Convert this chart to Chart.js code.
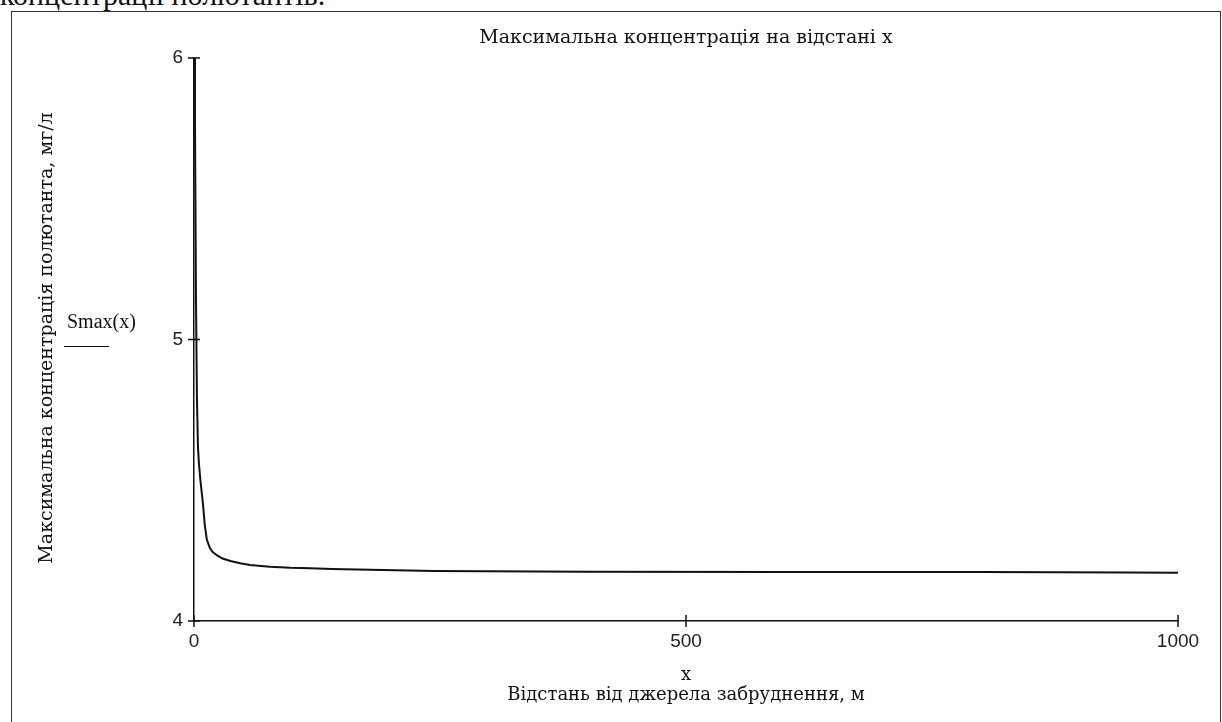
<!DOCTYPE html>
<html lang="uk">
<head>
  <meta charset="UTF-8" />
  <title>Smax(x)</title>
  <script src="https://cdn.jsdelivr.net/npm/chart.js"></script>
  <style>
    body { margin: 0; background: #fff; overflow: hidden; }
    #wrap { position: relative; width: 1222px; height: 722px; overflow: hidden; background: #fff; }
    #wrap div { position: absolute; white-space: nowrap; color: #111; }
    .cut { left: 0; top: -17px; font: 30px "Liberation Serif"; line-height: 24px; }
    .frame { left: 11px; top: 11px; width: 1208px; height: 740px; border: 1.5px solid #333; }
    .serif { font: 18px "DejaVu Serif"; line-height: 20px; text-align: center; }
    #title { left: 436px; width: 500px; top: 26px; font-size: 19px; }
    #xName { left: 636px; width: 100px; top: 664px; }
    #xTitle { left: 436px; width: 500px; top: 684px; }
    #yTitle { left: 45px; top: 338px; width: 600px; font-size: 19px; transform: translate(-50%, -50%) rotate(-90deg); }
    #legend { left: 67px; top: 309px; font: 20px "Liberation Serif"; line-height: 24px; }
    #legendLine { left: 64px; top: 346px; width: 45px; height: 0; border-top: 1.5px solid #111; }
    canvas { position: absolute; left: 0; top: 0; }
  </style>
</head>
<body>
<div id="wrap">
  <div class="cut">концентрації полютантів.</div>
  <div class="frame"></div>
  <canvas id="chart" width="1222" height="722"></canvas>
  <div id="title" class="serif">Максимальна концентрація на відстані x</div>
  <div id="xName" class="serif">x</div>
  <div id="xTitle" class="serif">Відстань від джерела забруднення, м</div>
  <div id="yTitle" class="serif">Максимальна концентрація полютанта, мг/л</div>
  <div id="legend">Smax(x)</div>
  <div id="legendLine"></div>
</div>

<script>
  // відстань x, м
  const xValues = [0.3, 1, 2, 3, 4, 5, 6.5, 9, 11, 13, 16, 19, 24, 29, 37, 47, 57, 77, 98, 118, 140, 244, 400, 600, 800, 950, 1000];
  // Smax(x), мг/л
  const sValues = [6.1, 5.77, 5.15, 4.79, 4.62, 4.56, 4.50, 4.42, 4.34, 4.29, 4.26, 4.245, 4.232, 4.222, 4.213, 4.205, 4.199, 4.193, 4.189, 4.187, 4.185, 4.178, 4.175, 4.174, 4.174, 4.172, 4.171];
  const xTicks = [0, 500, 1000];
  const yTicks = [4, 5, 6];

  // риски, що перетинають осі (як у Mathcad)
  const crossTicks = {
    id: 'crossTicks',
    afterDraw(chart) {
      const { ctx, chartArea, scales } = chart;
      ctx.save();
      ctx.strokeStyle = '#111';
      ctx.lineWidth = 1.5;
      ctx.beginPath();
      scales.x.ticks.forEach(t => {
        const px = scales.x.getPixelForValue(t.value);
        ctx.moveTo(px, chartArea.bottom - 6);
        ctx.lineTo(px, chartArea.bottom + 6);
      });
      scales.y.ticks.forEach(t => {
        const py = scales.y.getPixelForValue(t.value);
        ctx.moveTo(chartArea.left - 6, py);
        ctx.lineTo(chartArea.left + 6, py);
      });
      ctx.stroke();
      ctx.restore();
    }
  };

  const ctx = document.getElementById('chart').getContext('2d');

  new Chart(ctx, {
    type: 'scatter',
    data: {
      datasets: [{
        label: 'Smax(x)',
        data: xValues.map((x, i) => ({ x: x, y: sValues[i] })),
        showLine: true,
        borderColor: '#111',
        borderWidth: 2,
        pointRadius: 0,
        tension: 0
      }]
    },
    options: {
      responsive: false,
      animation: false,
      devicePixelRatio: 1,
      layout: { padding: { left: 154, top: 58, right: 44, bottom: 61 } },
      plugins: { legend: { display: false }, tooltip: { enabled: false } },
      scales: {
        x: {
          type: 'linear', min: 0, max: 1000,
          afterBuildTicks: s => { s.ticks = xTicks.map(v => ({ value: v })); },
          afterFit: s => { s.height = 40; },
          grid: { display: false, drawTicks: false },
          border: { display: true, color: '#111', width: 1.5 },
          ticks: { color: '#222', padding: 9, font: { family: 'Liberation Sans', size: 19 }, maxRotation: 0,
                   callback: v => String(v) }
        },
        y: {
          min: 4, max: 6,
          afterBuildTicks: s => { s.ticks = yTicks.map(v => ({ value: v })); },
          afterFit: s => { s.width = 40; },
          grid: { display: false, drawTicks: false },
          border: { display: true, color: '#111', width: 1.5 },
          ticks: { color: '#222', padding: 11, font: { family: 'Liberation Sans', size: 19 },
                   callback: v => String(v) }
        }
      }
    },
    plugins: [crossTicks]
  });
</script>
</body>
</html>
